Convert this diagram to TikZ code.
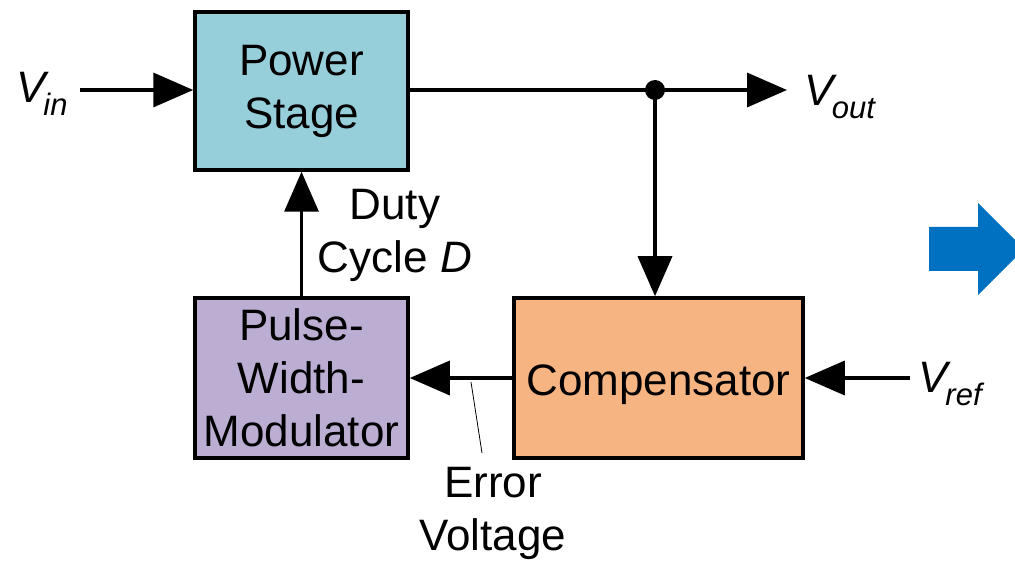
\documentclass[tikz,border=0pt]{standalone}
\usepackage{fontspec}
\setmainfont{Liberation Sans}
\usetikzlibrary{arrows.meta}
\definecolor{psblue}{RGB}{150,206,218}
\definecolor{pwmpurple}{RGB}{187,174,210}
\definecolor{comporange}{RGB}{246,180,130}
\definecolor{bigblue}{RGB}{0,112,192}
\newcommand{\sigtxt}[2]{\textit{#1}\kern-0.13em\raisebox{-0.28em}{\fontsize{31}{31}\selectfont\itshape #2}}
\tikzset{
  blk/.style={draw=black, line width=3.5pt, inner sep=0pt, align=center,
    font=\fontsize{44}{53}\selectfont},
  sig/.style={line width=3.5pt, -{Triangle[length=40pt,width=34pt]}},
  lbl/.style={inner sep=0pt, align=center, font=\fontsize{44}{53}\selectfont},
}
\begin{document}
\begin{tikzpicture}[x=1pt,y=-1pt]
\useasboundingbox (0,0) rectangle (1015,561);
\node[blk, fill=psblue, minimum width=213pt, minimum height=158pt] (ps) at (301.5,91) {Power\\Stage};
\node[blk, fill=pwmpurple, minimum width=213pt, minimum height=160pt] (pwm) at (301.5,378) {Pulse-\\Width-\\Modulator};
\node[blk, fill=comporange, minimum width=289pt, minimum height=160pt, text depth=0pt] (comp) at (658.5,378) {\raisebox{-4pt}{Compensator}};
\node[lbl, font=\fontsize{44}{44}\selectfont] (vin) at (42,94) {\sigtxt{V}{in}};
\node[lbl, font=\fontsize{44}{44}\selectfont] (vout) at (840,97) {\sigtxt{V}{out}};
\node[lbl, font=\fontsize{44}{44}\selectfont] (vref) at (950,384) {\sigtxt{V}{ref}};
\node[lbl] (duty) at (395,235) {Duty\\Cycle \textit{D}};
\node[lbl] (err) at (493,513) {Error\\Voltage};
\coordinate (vinS) at (80,90);
\coordinate (voutE) at (787,90);
\coordinate (vrefS) at (910,378);
\coordinate (tap) at (655,90);
\coordinate (leadA) at (471,382);
\coordinate (leadB) at (482,453);
% connectors
\draw[sig] (vinS) -- (vinS -| ps.west);
\draw[line width=3.5pt] (ps.east |- tap) -- (tap);
\draw[sig] (tap) -- (voutE);
\fill (tap) circle (10pt);
\draw[sig] (tap) -- (tap |- comp.north);
\draw[sig] (vrefS) -- (vrefS -| comp.east);
\draw[sig] (comp.west) -- (pwm.east);
\draw[sig] (pwm.north) -- (ps.south);
\draw[line width=0.8pt] (leadA) -- (leadB);
% big blue arrow
\fill[bigblue] (929,227) -- (978,227) -- (978,203) -- (1024,249) -- (978,295) -- (978,271) -- (929,271) -- cycle;
\end{tikzpicture}
\end{document}
